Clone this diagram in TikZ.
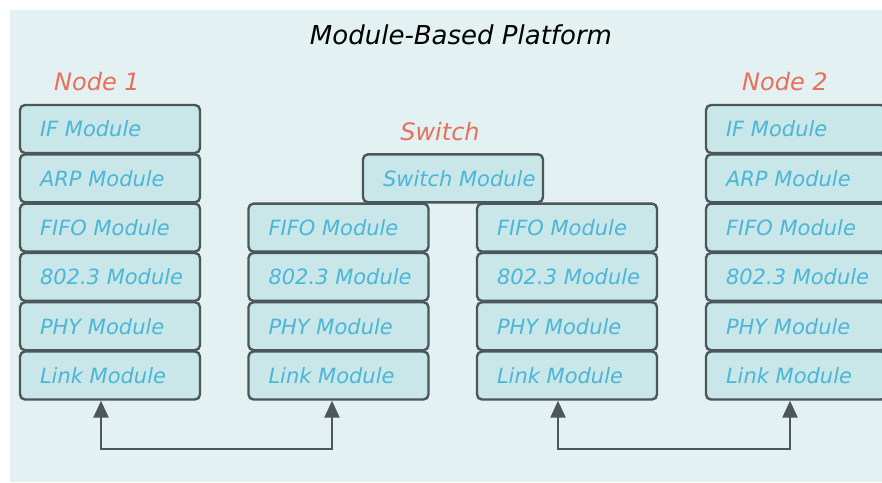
\documentclass[tikz,border=0pt]{standalone}
\usepackage{fontspec}
\setmainfont{DejaVu Sans}
\usetikzlibrary{arrows.meta}
\definecolor{bgc}{HTML}{E3F1F3}
\definecolor{boxfill}{HTML}{C9E6E9}
\definecolor{boxline}{HTML}{4C5759}
\definecolor{modtext}{HTML}{4BB6D6}
\definecolor{salmon}{HTML}{E8705A}
\newcommand{\modtxt}[1]{\makebox[140pt][l]{#1}}
\tikzset{
  modbox/.style={draw=boxline, fill=boxfill, line width=2.4pt, rounded corners=5pt,
    minimum height=48pt, minimum width=180pt, inner xsep=20pt, inner ysep=0pt,
    text=modtext, font=\fontsize{21}{24}\selectfont\itshape},
  grouplabel/.style={text=salmon, font=\fontsize{24}{28}\selectfont\itshape},
  titlelabel/.style={text=black, font=\fontsize{26}{30}\selectfont\itshape},
  link/.style={draw=boxline, line width=2.5pt, {Triangle[length=17pt,width=15pt]}-{Triangle[length=17pt,width=15pt]}}
}
\begin{document}
\begin{tikzpicture}[x=1pt,y=-1pt]
\useasboundingbox (0,0) rectangle (882,482);
\clip (0,0) rectangle (882,482);
\fill[bgc] (10,10) rectangle (882,482);
\node[titlelabel] (title) at (461,35) {Module-Based Platform};
\node[grouplabel] (n1) at (97,82) {Node 1};
\node[grouplabel] (sw) at (440,132) {Switch};
\node[grouplabel] (n2) at (785,82) {Node 2};
% Node 1
\node[modbox] (a1) at (110,129) {\modtxt{IF Module}};
\node[modbox] (a2) at (110,178.3) {\modtxt{ARP Module}};
\node[modbox] (a3) at (110,227.6) {\modtxt{FIFO Module}};
\node[modbox] (a4) at (110,276.9) {\modtxt{802.3 Module}};
\node[modbox] (a5) at (110,326.2) {\modtxt{PHY Module}};
\node[modbox] (a6) at (110,375.5) {\modtxt{Link Module}};
% Switch
\node[modbox] (sm) at (453,178.3) {\modtxt{Switch Module}};
\node[modbox] (b3) at (338.5,227.6) {\modtxt{FIFO Module}};
\node[modbox] (b4) at (338.5,276.9) {\modtxt{802.3 Module}};
\node[modbox] (b5) at (338.5,326.2) {\modtxt{PHY Module}};
\node[modbox] (b6) at (338.5,375.5) {\modtxt{Link Module}};
\node[modbox] (c3) at (567,227.6) {\modtxt{FIFO Module}};
\node[modbox] (c4) at (567,276.9) {\modtxt{802.3 Module}};
\node[modbox] (c5) at (567,326.2) {\modtxt{PHY Module}};
\node[modbox] (c6) at (567,375.5) {\modtxt{Link Module}};
% Node 2
\node[modbox] (d1) at (796,129) {\modtxt{IF Module}};
\node[modbox] (d2) at (796,178.3) {\modtxt{ARP Module}};
\node[modbox] (d3) at (796,227.6) {\modtxt{FIFO Module}};
\node[modbox] (d4) at (796,276.9) {\modtxt{802.3 Module}};
\node[modbox] (d5) at (796,326.2) {\modtxt{PHY Module}};
\node[modbox] (d6) at (796,375.5) {\modtxt{Link Module}};
% links
\draw[link] ([xshift=-9pt]a6.south) -- ++(0,48.5) -| ([xshift=-6.5pt]b6.south);
\draw[link] ([xshift=-9pt]c6.south) -- ++(0,48.5) -| ([xshift=-6pt]d6.south);
\end{tikzpicture}
\end{document}
